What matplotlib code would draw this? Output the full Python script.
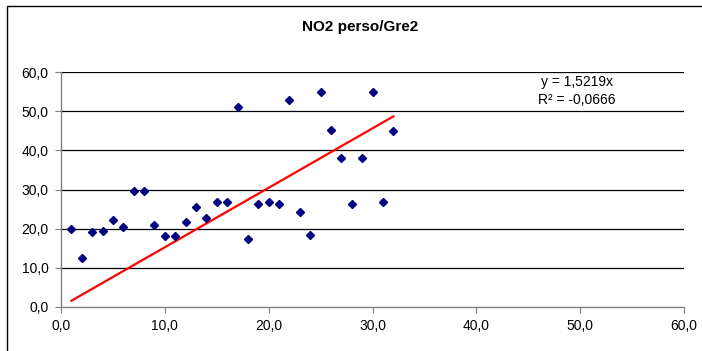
import numpy as np
import matplotlib.pyplot as plt
from matplotlib.patches import Rectangle

plt.rcParams["font.family"] = ["Liberation Sans", "DejaVu Sans"]

# NO2 personal samplers vs. Gre2 station
x_vals = np.arange(1, 33)
no2_vals = [
    20.0, 12.5, 19.2, 19.5, 22.1, 20.5, 29.7, 29.7, 20.9, 18.0,
    18.0, 21.8, 25.6, 22.8, 26.8, 26.8, 51.0, 17.3, 26.3, 26.9,
    26.3, 52.8, 24.3, 18.4, 55.0, 45.2, 38.0, 26.3, 38.0, 55.0,
    26.9, 44.9,
]

# linear trend through the origin
SLOPE = 1.5219
R2 = -0.0666
trend_x = np.array([x_vals[0], x_vals[-1]])

x_ticks = np.arange(0, 61, 10)
y_ticks = np.arange(0, 61, 10)


def fmt(v):
    return f"{v:.1f}".replace(".", ",")


fig = plt.figure(figsize=(7.02, 3.51), dpi=100)
ax = fig.add_axes([0.0869, 0.1262, 0.8875, 0.6678])

# outer chart frame
fig.patches.append(
    Rectangle((7 / 702, -0.1), 1.2, 1 - 6 / 351 + 0.1,
              transform=fig.transFigure, fill=False,
              edgecolor="black", linewidth=1.0)
)

for y in y_ticks[1:]:
    ax.axhline(y, color="black", linewidth=0.9, zorder=1)

ax.plot(x_vals, no2_vals, linestyle="none", marker="D", markersize=4.5,
        color="#000080", zorder=3)
ax.plot(trend_x, SLOPE * trend_x, color="#ff0000", linewidth=1.6, zorder=2)

ax.set_xlim(0, 60)
ax.set_ylim(0, 60)
ax.set_xticks(x_ticks)
ax.set_yticks(y_ticks)
ax.set_xticklabels([fmt(v) for v in x_ticks])
ax.set_yticklabels([fmt(v) for v in y_ticks])
ax.tick_params(direction="out", length=4, width=0.8, color="#808080",
               labelsize=10, pad=5)

for side in ("top", "right"):
    ax.spines[side].set_visible(False)
for side in ("left", "bottom"):
    ax.spines[side].set_color("#808080")
    ax.spines[side].set_linewidth(1.0)

fig.text(360 / 702, 1 - 27 / 351, "NO2 perso/Gre2", ha="center",
         va="center", fontsize=11, fontweight="bold")
ax.text(0.828, 0.959, f"y = {SLOPE:.4f}x".replace(".", ","),
        transform=ax.transAxes, ha="center", va="center", fontsize=10)
ax.text(0.828, 0.882, f"R² = {R2:.4f}".replace(".", ","),
        transform=ax.transAxes, ha="center", va="center", fontsize=10)

fig.savefig("out.png", dpi=100)
